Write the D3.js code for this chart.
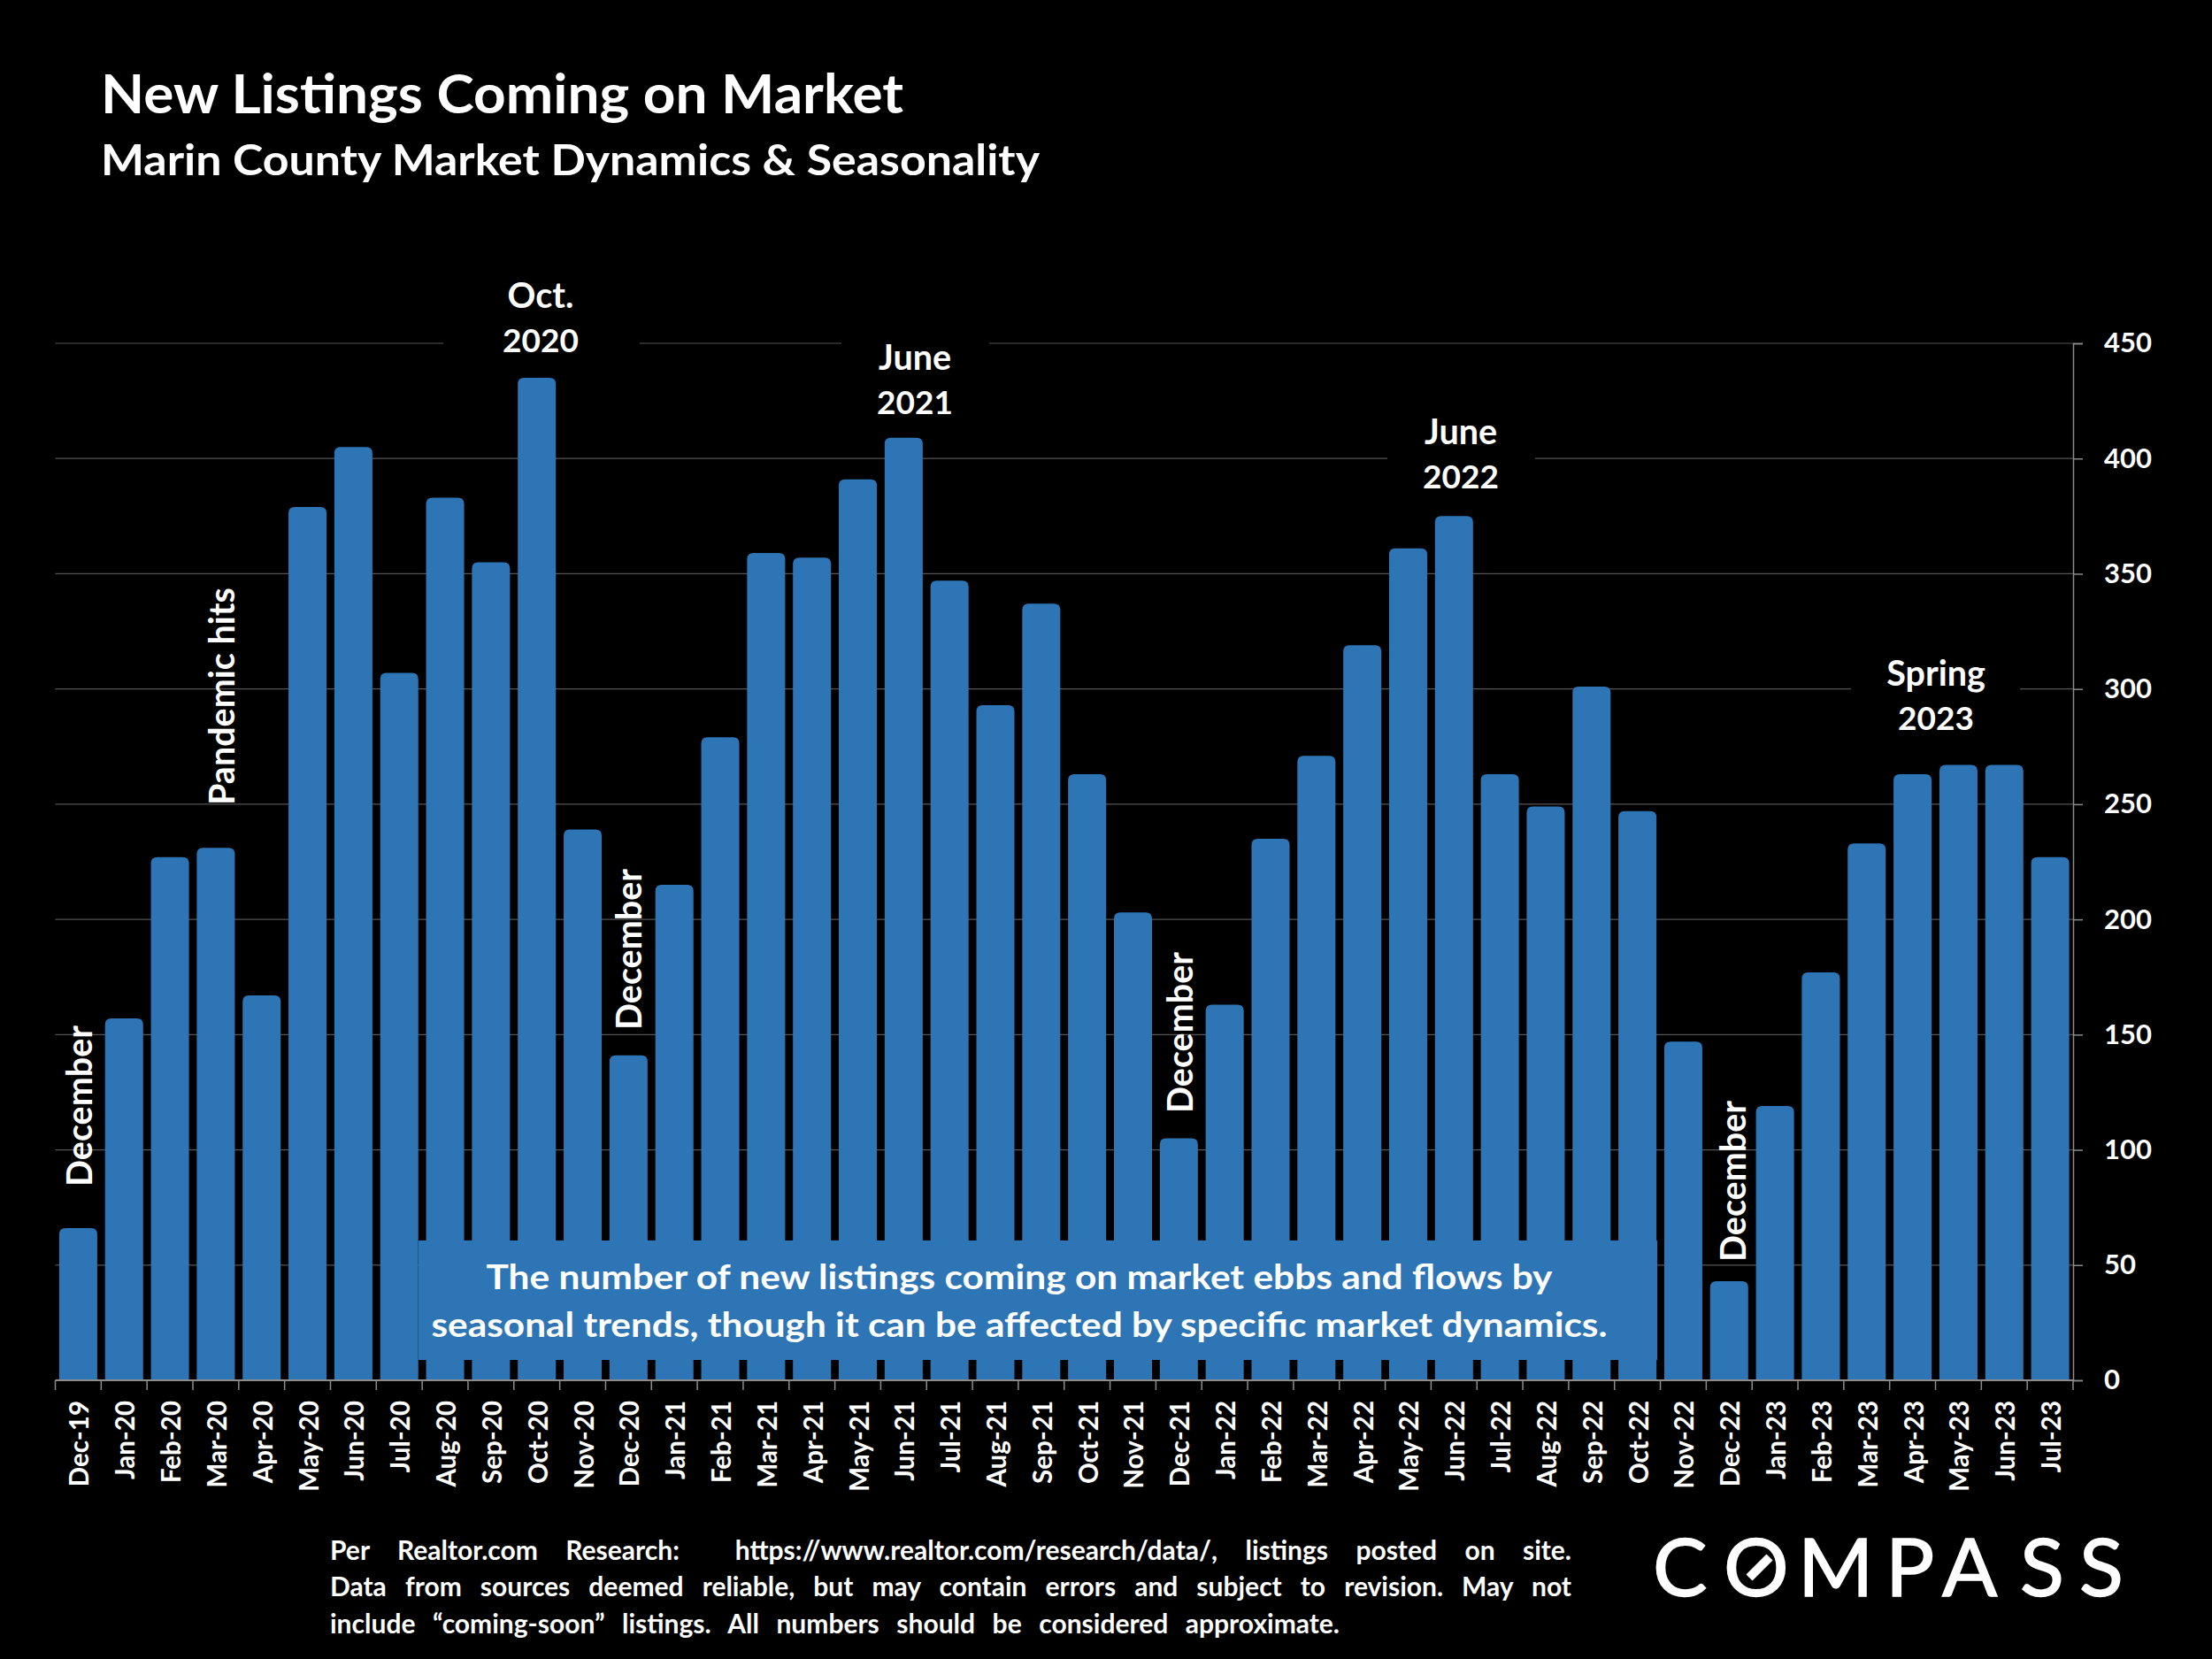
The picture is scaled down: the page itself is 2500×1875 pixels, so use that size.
<!DOCTYPE html>
<html><head><meta charset="utf-8">
<script src="https://cdn.jsdelivr.net/npm/d3@7"></script>
<style>html,body{margin:0;padding:0;background:#000}svg{display:block}text{font-family:Lato,"Open Sans",sans-serif;font-weight:700;fill:#fff}</style>
</head><body><svg id="c" width="2500" height="1875"></svg>
<script>
const categories=["Dec-19","Jan-20","Feb-20","Mar-20","Apr-20","May-20","Jun-20","Jul-20","Aug-20","Sep-20","Oct-20","Nov-20","Dec-20","Jan-21","Feb-21","Mar-21","Apr-21","May-21","Jun-21","Jul-21","Aug-21","Sep-21","Oct-21","Nov-21","Dec-21","Jan-22","Feb-22","Mar-22","Apr-22","May-22","Jun-22","Jul-22","Aug-22","Sep-22","Oct-22","Nov-22","Dec-22","Jan-23","Feb-23","Mar-23","Apr-23","May-23","Jun-23","Jul-23"];
const listings=[66,157,227,231,167,379,405,307,383,355,435,239,141,215,279,359,357,391,409,347,293,337,263,203,105,163,235,271,319,361,375,263,249,301,247,147,43,119,177,233,263,267,267,227];
const yTicks=[0,50,100,150,200,250,300,350,400,450];
const titleText="New Listings Coming on Market";
const subtitleText="Marin County Market Dynamics & Seasonality";
const boxLines=["The number of new listings coming on market ebbs and flows by","seasonal trends, though it can be affected by specific market dynamics."];
const footLines=["Per Realtor.com Research:  https://www.realtor.com/research/data/, listings posted on site.","Data from sources deemed reliable, but may contain errors and subject to revision. May not","include “coming-soon” listings. All numbers should be considered approximate."];
const stackedNotes=[{l:["Oct.","2020"],x:611,y:348,m:[501,723,450]},{l:["June","2021"],x:1034,y:418,m:[951,1118,450]},{l:["June","2022"],x:1651,y:502,m:[1568,1735,400]},{l:["Spring","2023"],x:2188,y:775,m:[2092,2283,300]}];
const sideNotes=[{t:"December",x:104,y:1341},{t:"Pandemic hits",x:265,y:910},{t:"December",x:725,y:1164},{t:"December",x:1348,y:1258},{t:"December",x:1973,y:1426}];

const svg=d3.select("#c");
svg.append("rect").attr("width",2500).attr("height",1875).attr("fill","#000");
const L=62.5,R=2343,B=1560,T=388,blue="#2E75B6";
const x=d3.scaleBand().domain(categories).range([L,R]).paddingInner(0.17).paddingOuter(0.085);
const y=d3.scaleLinear().domain([0,450]).range([B,T]);

// gridlines
svg.append("g").selectAll("line").data(yTicks.filter(d=>d>0)).join("line")
 .attr("x1",L).attr("x2",R).attr("y1",d=>y(d)).attr("y2",d=>y(d)).attr("stroke","#555").attr("stroke-width",1.2);
// annotation masks on gridlines
svg.append("g").selectAll("rect").data(stackedNotes).join("rect")
 .attr("x",d=>d.m[0]).attr("width",d=>d.m[1]-d.m[0]).attr("y",d=>y(d.m[2])-4).attr("height",8).attr("fill","#000");
// bars
svg.append("g").selectAll("path").data(categories).join("path").attr("fill",blue).attr("d",(c,i)=>{
 const a=x(c),w=x.bandwidth(),t=y(listings[i]),r=7,p=d3.path();
 p.moveTo(a,B);p.lineTo(a,t+r);p.quadraticCurveTo(a,t,a+r,t);p.lineTo(a+w-r,t);p.quadraticCurveTo(a+w,t,a+w,t+r);p.lineTo(a+w,B);p.closePath();return p.toString();});
// text box
svg.append("rect").attr("x",473).attr("y",1402).attr("width",1400).attr("height",135).attr("fill",blue);
function fit(sel,w){sel.attr("textLength",w).attr("lengthAdjust","spacingAndGlyphs");return sel;}
fit(svg.append("text").attr("x",1152).attr("y",1457).attr("text-anchor","middle").attr("font-size",39).text(boxLines[0]),1205);
fit(svg.append("text").attr("x",1152).attr("y",1511).attr("text-anchor","middle").attr("font-size",39).text(boxLines[1]),1329);

// x axis
const gx=svg.append("g").attr("transform",`translate(0,${B})`).call(d3.axisBottom(x).tickSize(0).tickPadding(0));
gx.select(".domain").remove();
gx.selectAll("text").attr("font-size",29.5).attr("fill","#fff").attr("text-anchor","end").attr("dy",null)
 .attr("transform","translate(12,23) rotate(-90)").attr("y",0).attr("x",0).attr("font-family","Lato");
svg.append("g").selectAll("line").data(d3.range(categories.length+1)).join("line")
 .attr("x1",i=>L+i*x.step()).attr("x2",i=>L+i*x.step()).attr("y1",B).attr("y2",B+11).attr("stroke","#8c8c8c").attr("stroke-width",1.5);
svg.append("line").attr("x1",L).attr("x2",R).attr("y1",B).attr("y2",B).attr("stroke","#8c8c8c").attr("stroke-width",2);
// y axis
const gy=svg.append("g").attr("transform",`translate(${R},0)`).call(d3.axisRight(y).tickValues(yTicks).tickSize(11).tickPadding(24));
gy.select(".domain").attr("stroke","#8c8c8c").attr("stroke-width",1.5);
gy.selectAll(".tick line").attr("stroke","#8c8c8c").attr("stroke-width",1.5);
gy.selectAll("text").attr("font-size",31).attr("fill","#fff").attr("font-family","Lato");

// titles
fit(svg.append("text").attr("x",114).attr("y",128).attr("font-size",62).text(titleText),907);
fit(svg.append("text").attr("x",114).attr("y",198).attr("font-size",48).text(subtitleText),1061);

// annotations
stackedNotes.forEach(n=>n.l.forEach((t,i)=>svg.append("text").attr("x",n.x).attr("y",n.y+i*50).attr("text-anchor","middle").attr("font-size",/\d/.test(t)?37:39.5).text(t)));
sideNotes.forEach(n=>svg.append("text").attr("transform",`translate(${n.x},${n.y}) rotate(-90)`).attr("font-size",39.5).text(n.t));

// footer, justified through word spacing
[[1763,1403],[1804,1403],[1846,1141]].forEach(([by,w],i)=>{
 const t=svg.append("text").attr("x",373).attr("y",by).attr("font-size",30).style("white-space","pre").text(footLines[i]);
 const len=t.node().getComputedTextLength(),sp=(footLines[i].match(/ /g)||[]).length;
 t.style("word-spacing",((w-len)/sp)+"px");
});

// logo
svg.append("text").attr("x","1868 1948 2032 2131 2195 2283 2350").attr("y",1804).attr("font-size",92).style("font-weight",400).attr("stroke","#fff").attr("stroke-width",1.5).text("COMPASS");
svg.append("line").attr("x1",1977).attr("y1",1783).attr("x2",2000).attr("y2",1760).attr("stroke","#fff").attr("stroke-width",10);
</script></body></html>
